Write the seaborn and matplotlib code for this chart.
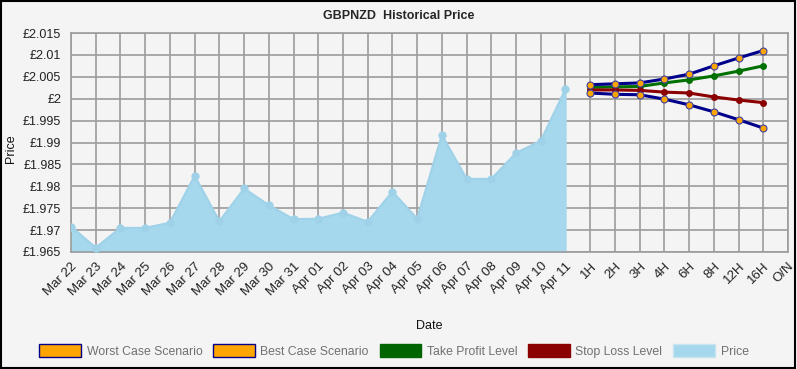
import numpy as np
import pandas as pd
import matplotlib
matplotlib.use("Agg")
import matplotlib.pyplot as plt
import matplotlib.patches as mpatches
import seaborn as sns

# =========================
# DATA
# =========================
dates = ["Mar 22", "Mar 23", "Mar 24", "Mar 25", "Mar 26", "Mar 27", "Mar 28",
         "Mar 29", "Mar 30", "Mar 31", "Apr 01", "Apr 02", "Apr 03", "Apr 04",
         "Apr 05", "Apr 06", "Apr 07", "Apr 08", "Apr 09", "Apr 10", "Apr 11"]
price = [1.9708, 1.9660, 1.9705, 1.9705, 1.9717, 1.9824, 1.9720,
         1.9795, 1.9757, 1.9725, 1.9726, 1.9740, 1.9719, 1.9788,
         1.9726, 1.9917, 1.9817, 1.9817, 1.9876, 1.9904, 2.0022]

horizons = ["1H", "2H", "3H", "4H", "6H", "8H", "12H", "16H", "O/N"]
best_case = [2.0032, 2.0034, 2.0036, 2.0045, 2.0056, 2.0075, 2.0093, 2.0110]
worst_case = [2.0013, 2.0010, 2.0009, 1.9999, 1.9986, 1.9970, 1.9952, 1.9933]
take_profit = [2.0026, 2.0027, 2.0028, 2.0036, 2.0043, 2.0052, 2.0063, 2.0075]
stop_loss = [2.0020, 2.0020, 2.0019, 2.0015, 2.0013, 2.0004, 1.9997, 1.9991]

y_ticks = [1.965, 1.97, 1.975, 1.98, 1.985, 1.99, 1.995, 2.0, 2.005, 2.01, 2.015]
y_labels = ["£1.965", "£1.97", "£1.975", "£1.98", "£1.985", "£1.99", "£1.995",
            "£2", "£2.005", "£2.01", "£2.015"]

# =========================
# STYLE
# =========================
BG = "#f4f4f4"
GRID = "#9c9c9c"
sns.set_style("white", {"axes.facecolor": BG, "figure.facecolor": BG})
plt.rcParams["font.family"] = ["Liberation Sans", "DejaVu Sans"]

labels = dates + horizons
hist_df = pd.DataFrame({"x": np.arange(len(dates)), "price": price})
fc_x = np.arange(len(dates), len(dates) + len(best_case))
fc_df = pd.DataFrame({"x": fc_x, "best": best_case, "worst": worst_case,
                      "tp": take_profit, "sl": stop_loss})

fig = plt.figure(figsize=(7.97, 3.69), dpi=100)
fig.patch.set_facecolor(BG)
ax = fig.add_axes([71 / 797, 1 - 252 / 369, (788 - 71) / 797, (252 - 33) / 369])
ax.set_facecolor(BG)

# grid
ax.set_axisbelow(True)
ax.grid(True, color=GRID, linewidth=1.2)

# price area
ax.fill_between(hist_df["x"], hist_df["price"], 1.965, color="#a6d8ed", zorder=2)
sns.lineplot(data=hist_df, x="x", y="price", ax=ax, color="#9fd2e8", linewidth=1.5,
             marker="o", markersize=6, markeredgewidth=0, zorder=3)

# forecast lines
sns.lineplot(data=fc_df, x="x", y="tp", ax=ax, color="#007000", linewidth=2.2,
             marker="o", markersize=5, markeredgewidth=0, zorder=4)
sns.lineplot(data=fc_df, x="x", y="sl", ax=ax, color="#8b0000", linewidth=2.2,
             marker="o", markersize=5, markeredgewidth=0, zorder=4)
for col in ["best", "worst"]:
    sns.lineplot(data=fc_df, x="x", y=col, ax=ax, color="#00008b", linewidth=2.2,
                 marker="o", markersize=5, markerfacecolor="#ffa500",
                 markeredgecolor="#4040a0", markeredgewidth=0.8, zorder=5)

ax.set_xlim(0, len(labels) - 1)
ax.set_ylim(1.965, 2.015)
ax.set_xticks(np.arange(len(labels)))
ax.set_xticklabels(labels, rotation=45, ha="right", rotation_mode="anchor",
                   fontsize=9.5, color="#222222")
ax.set_yticks(y_ticks)
ax.set_yticklabels(y_labels, fontsize=9, color="#222222")
ax.tick_params(axis="both", length=5, color=GRID, width=1.2, pad=2)
ax.tick_params(axis="x", pad=1)
for s in ax.spines.values():
    s.set_color(GRID)
    s.set_linewidth(1.2)

ax.set_xlabel("Date", fontsize=9, labelpad=16, color="#111111")
ax.set_ylabel("Price", fontsize=9, color="#111111")
ax.yaxis.set_label_coords(-0.075, 0.47)
fig.suptitle("GBPNZD  Historical Price", x=399 / 797, y=1 - 16 / 369, va="center",
             fontsize=9, fontweight="bold")

# legend
handles = [
    mpatches.Patch(facecolor="#ffa500", edgecolor="#00008b", label="Worst Case Scenario"),
    mpatches.Patch(facecolor="#ffa500", edgecolor="#00008b", label="Best Case Scenario"),
    mpatches.Patch(facecolor="#006400", edgecolor="#006400", label="Take Profit Level"),
    mpatches.Patch(facecolor="#8b0000", edgecolor="#8b0000", label="Stop Loss Level"),
    mpatches.Patch(facecolor="#a6d8ed", edgecolor="#c8e4f0", label="Price"),
]
fig.legend(handles=handles, loc="center", bbox_to_anchor=(394 / 797, 1 - 351 / 369),
           ncol=5, frameon=False, fontsize=8.8, handlelength=3.4, handleheight=1.2,
           columnspacing=0.9, handletextpad=0.45, labelcolor="#707070")

# outer border
fig.add_artist(mpatches.Rectangle((0.001, 0.002), 0.997, 0.995, transform=fig.transFigure,
                                  fill=False, edgecolor="black", linewidth=1.5))

fig.savefig("out.png", dpi=100, facecolor=BG)
